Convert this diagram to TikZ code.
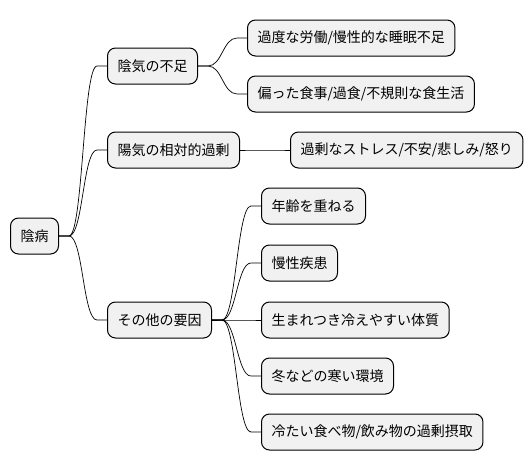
\documentclass[tikz,border=0pt]{standalone}
\usepackage{fontspec}
\setmainfont{Noto Sans CJK JP}
\definecolor{boxfill}{HTML}{F1F1F1}
\tikzset{
  topic/.style={draw, line width=1pt, fill=boxfill, rounded corners=8pt, minimum height=36pt, inner xsep=10pt, inner ysep=0pt, anchor=west, font=\fontsize{14}{16}\selectfont},
  branch/.style={line width=0.7pt, to path={-- ++(10pt,0) .. controls +(14pt,0) and ([xshift=-24pt]\tikztotarget.west) .. ([xshift=-10pt]\tikztotarget.west) -- (\tikztotarget.west)}}
}

\begin{document}
\begin{tikzpicture}[x=1pt, y=-1pt]
		%%%%% START %%%%%
		\useasboundingbox (0, 0) rectangle (531, 471);
		
		\node[topic] (root) at (10, 236) {陰病};
		
		\node[topic] (deficit) at (107, 66) {陰気の不足};
		\node[topic] (excess) at (107, 150) {陽気の相対的過剰};
		\node[topic] (other) at (107, 320) {その他の要因};
		
		\node[topic] (overwork) at (247, 38) {過度な労働/慢性的な睡眠不足};
		\node[topic] (diet) at (247, 94) {偏った食事/過食/不規則な食生活};
		
		\node[topic] (stress) at (290, 150) {過剰なストレス/不安/悲しみ/怒り};
		
		\node[topic] (aging) at (261, 206) {年齢を重ねる};
		\node[topic] (chronic) at (261, 263) {慢性疾患};
		\node[topic] (constitution) at (261, 320) {生まれつき冷えやすい体質};
		\node[topic] (cold) at (261, 376) {冬などの寒い環境};
		\node[topic] (food) at (261, 432) {冷たい食べ物/飲み物の過剰摂取};
		
		\draw[branch] (root.east) to (deficit);
		\draw[branch] (root.east) to (excess);
		\draw[branch] (root.east) to (other);
		
		\draw[branch] (deficit.east) to (overwork);
		\draw[branch] (deficit.east) to (diet);
		\draw[branch] (excess.east) to (stress);
		
		\draw[branch] (other.east) to (aging);
		\draw[branch] (other.east) to (chronic);
		\draw[branch] (other.east) to (constitution);
		\draw[branch] (other.east) to (cold);
		\draw[branch] (other.east) to (food);
		
		%%%%% END %%%%%
\end{tikzpicture}
\end{document}
